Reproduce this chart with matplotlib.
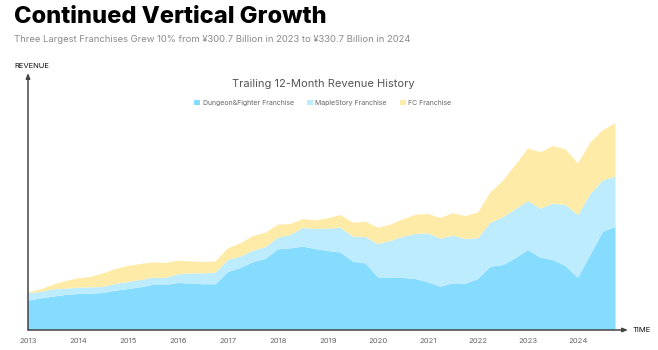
import matplotlib.pyplot as plt
import numpy as np

# trailing 12-month revenue, ¥ billion (approx), quarterly 2013 Q1 - 2024 Q4
quarters = np.arange(2013, 2025, 0.25)
dnf = [46.9, 50.4, 53.3, 56.0, 57.6, 58.1, 59.2, 62.9, 65.6, 68.3, 72.0, 72.0,
       75.2, 74.4, 73.3, 73.1, 92.8, 99.2, 108.5, 113.9, 129.1, 130.7, 133.3, 129.6,
       126.4, 124.0, 109.3, 106.7, 84.3, 83.2, 83.2, 81.6, 76.3, 69.3, 74.7, 74.1,
       81.6, 101.3, 104.0, 114.7, 128.0, 115.7, 112.0, 102.4, 83.7, 120.0, 157.3, 164.8]
maple = [11.8, 10.4, 11.8, 10.1, 10.1, 10.2, 9.6, 10.7, 11.2, 11.7, 11.7, 11.2,
         13.9, 16.0, 17.4, 18.4, 19.2, 18.1, 18.4, 18.4, 18.6, 21.3, 29.9, 32.0,
         35.7, 39.7, 40.0, 42.1, 53.3, 59.2, 66.1, 72.0, 78.4, 76.8, 76.2, 71.5,
         65.1, 70.4, 76.3, 78.4, 78.4, 78.4, 90.1, 97.6, 100.3, 97.6, 82.2, 80.5]
fc = [1.6, 4.3, 7.4, 12.3, 15.0, 16.5, 21.9, 24.0, 25.6, 25.6, 24.6, 24.0,
      21.8, 19.5, 18.1, 18.1, 18.7, 21.4, 23.5, 23.4, 20.8, 17.6, 14.4, 13.9,
      16.6, 20.3, 22.4, 24.5, 26.1, 26.1, 27.8, 30.9, 30.9, 33.1, 35.8, 36.8,
      41.3, 48.6, 58.6, 70.9, 84.3, 90.2, 92.3, 89.1, 82.7, 82.7, 80.5, 85.4]
labels = ["Dungeon&Fighter Franchise", "MapleStory Franchise", "FC Franchise"]
colors = ["#86dcfe", "#bdecfe", "#ffeba8"]
years = list(range(2013, 2025))

plt.rcParams["font.family"] = ["Inter", "DejaVu Sans"]

W, H = 658, 350
fig = plt.figure(figsize=(W / 100, H / 100), dpi=100)
# axes: left at x=28, baseline y=330, top y=73, right end of axis line x=628
ax = fig.add_axes([28 / W, 20 / H, 600 / W, 257 / H])
ax.stackplot(quarters, dnf, maple, fc, colors=colors, labels=labels, linewidth=0)
ax.set_xlim(2013, 2013 + 600 / 50)
ax.set_ylim(0, 257 * 1.6)

for s in ax.spines.values():
    s.set_visible(False)
ax.set_yticks([])
ax.set_xticks(years)
ax.set_xticklabels([str(y) for y in years], fontsize=5.5, color="#666666")
ax.tick_params(axis="x", length=0, pad=6)

# axis lines with arrow heads
arrow = dict(arrowstyle="-|>,head_length=0.3,head_width=0.12", color="#444444", lw=1.1,
             shrinkA=0, shrinkB=0)
ax.annotate("", xy=(0, 1), xytext=(0, 0), xycoords="axes fraction", arrowprops=arrow)
ax.annotate("", xy=(1, 0), xytext=(0, 0), xycoords="axes fraction", arrowprops=arrow)
fig.text(14 / W, 1 - 66 / H, "REVENUE", fontsize=5.5, color="#111111", va="center")
fig.text(633 / W, 1 - 330 / H, "TIME", fontsize=5.5, color="#111111", va="center")

fig.text(14 / W, 1 - 17 / H, "Continued Vertical Growth", fontsize=17, fontweight="heavy",
         color="#000000", va="center")
fig.text(14 / W, 1 - 40 / H,
         "Three Largest Franchises Grew 10% from ¥300.7 Billion in 2023 to ¥330.7 Billion in 2024",
         fontsize=6.8, color="#8a8a8a", va="center")
fig.text(323 / W, 1 - 84 / H, "Trailing 12-Month Revenue History", fontsize=8,
         color="#555555", ha="center", va="center")

fig.legend(loc="center", bbox_to_anchor=(323 / W, 1 - 103 / H), ncol=3, frameon=False,
           fontsize=5, labelcolor="#666666", handlelength=0.8, handleheight=0.8,
           handletextpad=0.4, columnspacing=1.9)

fig.savefig("out.png", dpi=100)
